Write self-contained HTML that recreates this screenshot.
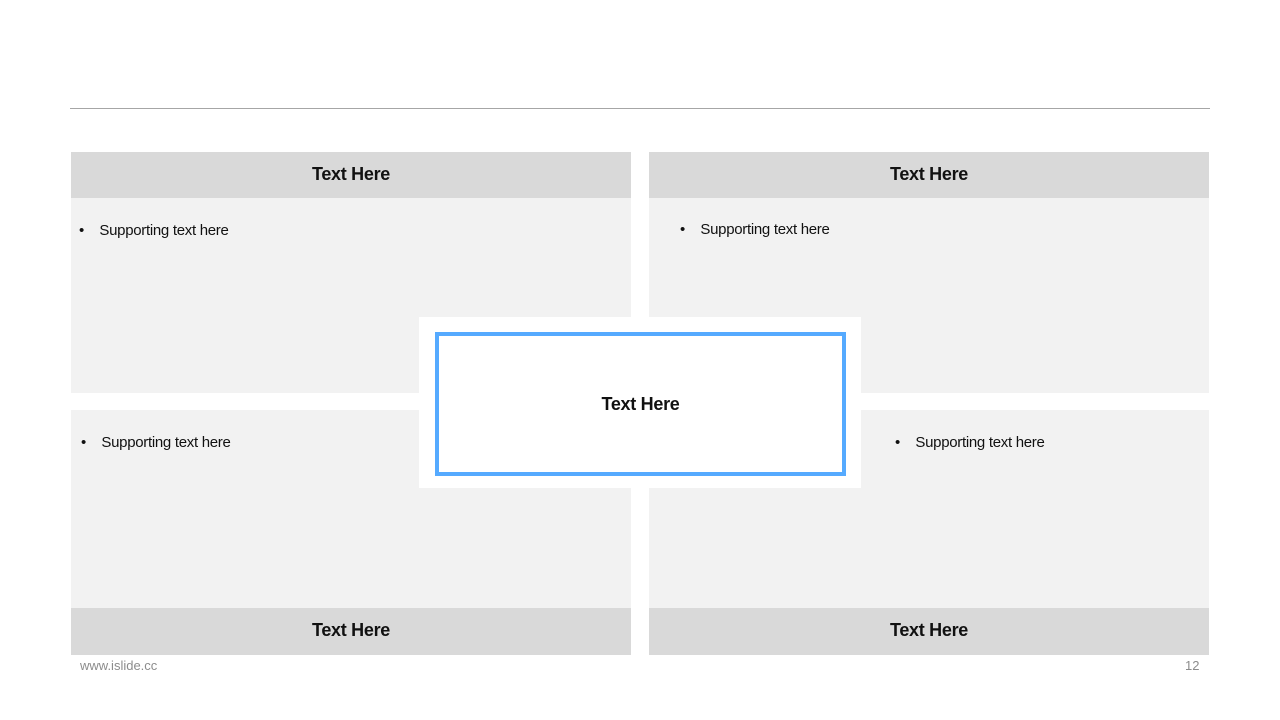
<!DOCTYPE html>
<html><head><style>
body{margin:0;width:1280px;height:720px;background:#fff;position:relative;font-family:"Liberation Sans",Arial,sans-serif;overflow:hidden}
.a{position:absolute}
.p{background:#f2f2f2}
.h{background:#d9d9d9;font-weight:bold;font-size:18px;color:#111;text-align:center;line-height:45px;letter-spacing:-0.3px}
.t{font-size:15px;color:#111;letter-spacing:-0.3px}
</style></head><body>
<div class="a" style="left:70px;top:108px;width:1140px;height:1px;background:#a6a6a6"></div>
<div class="a p" style="left:71px;top:152px;width:560px;height:241px"></div>
<div class="a p" style="left:649px;top:152px;width:560px;height:241px"></div>
<div class="a p" style="left:71px;top:410px;width:560px;height:245px"></div>
<div class="a p" style="left:649px;top:410px;width:560px;height:245px"></div>
<div class="a h" style="left:71px;top:152px;width:560px;height:46px">Text Here</div>
<div class="a h" style="left:649px;top:152px;width:560px;height:46px">Text Here</div>
<div class="a h" style="left:71px;top:608px;width:560px;height:47px">Text Here</div>
<div class="a h" style="left:649px;top:608px;width:560px;height:47px">Text Here</div>
<div class="a t" style="left:79px;top:222px">•&nbsp;&nbsp;&nbsp;&nbsp;Supporting text here</div>
<div class="a t" style="left:680px;top:221px">•&nbsp;&nbsp;&nbsp;&nbsp;Supporting text here</div>
<div class="a t" style="left:81px;top:434px">•&nbsp;&nbsp;&nbsp;&nbsp;Supporting text here</div>
<div class="a t" style="left:895px;top:434px">•&nbsp;&nbsp;&nbsp;&nbsp;Supporting text here</div>
<div class="a" style="left:419px;top:317px;width:442px;height:171px;background:#fff"></div>
<div class="a" style="left:435px;top:332px;width:403px;height:136px;border:4px solid #55aaff;background:#fff;text-align:center;line-height:136px;font-weight:bold;font-size:18px;color:#111;letter-spacing:-0.3px">Text Here</div>
<div class="a" style="left:80px;top:658px;font-size:13px;color:#8c8c8c">www.islide.cc</div>
<div class="a" style="left:1185px;top:658px;font-size:13px;color:#8c8c8c">12</div>
</body></html>
